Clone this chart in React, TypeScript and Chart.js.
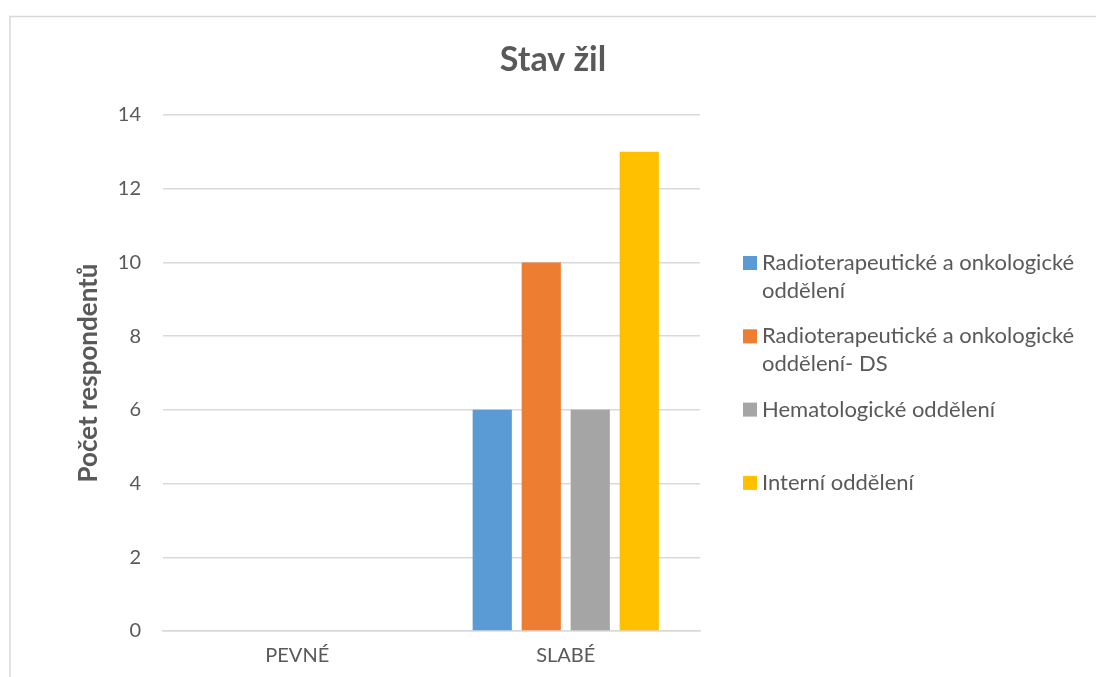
import React, { useEffect, useRef } from 'react';
import { Chart, registerables } from 'chart.js';

Chart.register(...registerables);

const chartTitle = 'Stav žil';
const yAxisTitle = 'Počet respondentů';
const categories = ['PEVNÉ', 'SLABÉ'];
const seriesLabels = [
  'Radioterapeutické a onkologické oddělení',
  'Radioterapeutické a onkologické oddělení- DS',
  'Hematologické oddělení',
  'Interní oddělení',
];
const legendLines = [
  ['Radioterapeutické a onkologické', 'oddělení'],
  ['Radioterapeutické a onkologické', 'oddělení- DS'],
  ['Hematologické oddělení'],
  ['Interní oddělení'],
];
const radioterapie = [0, 6];
const radioterapieDS = [0, 10];
const hematologie = [0, 6];
const interni = [0, 13];
const seriesColors = ['#5B9BD5', '#ED7D31', '#A5A5A5', '#FFC000'];
const yMin = 0;
const yMax = 14;
const yStep = 2;

const FONT = 'Lato, "Open Sans", sans-serif';
const TEXT = '#595959';

const decorPlugin = {
  id: 'decor',
  beforeDraw(chart: any) {
    const ctx = chart.ctx;
    ctx.save();
    ctx.fillStyle = '#ffffff';
    ctx.fillRect(0, 0, chart.width, chart.height);
    ctx.strokeStyle = '#D9D9D9';
    ctx.lineWidth = 1.5;
    ctx.strokeRect(10, 16.5, chart.width + 20, chart.height + 20);
    ctx.restore();
  },
  afterDraw(chart: any) {
    const ctx = chart.ctx;
    ctx.save();
    ctx.fillStyle = TEXT;
    ctx.font = `bold 34px ${FONT}`;
    ctx.textAlign = 'center';
    ctx.textBaseline = 'alphabetic';
    ctx.fillText(chartTitle, 553, 71);

    ctx.font = `22px ${FONT}`;
    ctx.textAlign = 'left';
    ctx.textBaseline = 'middle';
    legendLines.forEach((lines, i) => {
      const y0 = 263 + i * 73.3;
      ctx.fillStyle = seriesColors[i];
      ctx.fillRect(743, y0 - 7, 14, 14);
      ctx.fillStyle = TEXT;
      lines.forEach((line, k) => {
        ctx.fillText(line, 762, y0 + k * 28);
      });
    });
    ctx.restore();
  },
};

export default function App() {
  const ref = useRef<HTMLCanvasElement | null>(null);
  useEffect(() => {
    document.body.style.margin = '0';
    const values = [radioterapie, radioterapieDS, hematologie, interni];
    const chart = new Chart(ref.current as HTMLCanvasElement, {
      type: 'bar',
      data: {
        labels: categories,
        datasets: values.map((v, i) => ({
          label: seriesLabels[i],
          data: v,
          backgroundColor: seriesColors[i],
          borderWidth: 0,
          categoryPercentage: 0.73,
          barPercentage: 0.8,
        })),
      },
      options: {
        responsive: false,
        animation: false,
        devicePixelRatio: 1,
        layout: { padding: { left: 10, right: 396, top: 115, bottom: 0 } },
        plugins: {
          legend: { display: false },
          title: { display: false },
          tooltip: { enabled: false },
        },
        scales: {
          x: {
            grid: { display: false, drawTicks: false },
            border: { display: true, color: '#D9D9D9', width: 1.5 },
            ticks: { color: TEXT, font: { family: FONT, size: 20 }, padding: 13 },
            afterFit: (s: any) => { s.height = 46; },
          },
          y: {
            min: yMin,
            max: yMax,
            ticks: { stepSize: yStep, color: TEXT, font: { family: FONT, size: 20 }, padding: 22 },
            grid: { color: '#D9D9D9', lineWidth: 1.5, drawTicks: false },
            border: { display: false },
            title: {
              display: true,
              text: yAxisTitle,
              color: TEXT,
              font: { family: FONT, size: 26, weight: 'bold' },
              padding: { top: 63, bottom: 0 },
            },
            afterFit: (s: any) => { s.width = 153; },
          },
        },
      },
      plugins: [decorPlugin],
    });
    return () => chart.destroy();
  }, []);
  return <canvas ref={ref} width={1096} height={677} style={{ display: 'block' }} />;
}
